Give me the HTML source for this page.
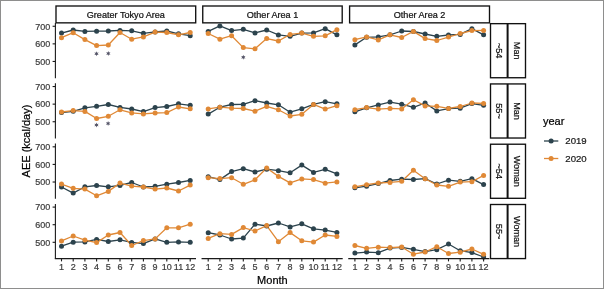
<!DOCTYPE html>
<html><head><meta charset="utf-8"><style>
html,body{margin:0;padding:0;background:#fff;}
body{width:604px;height:289px;position:relative;overflow:hidden;font-family:"Liberation Sans",sans-serif;}
svg text{font-family:"Liberation Sans",sans-serif;}
svg{filter:blur(0.3px);}
.frame{position:absolute;left:0;top:0;width:602px;height:287px;border:1px solid #8e8e8d;}
</style></head><body>
<svg width="604" height="289" viewBox="0 0 604 289" style="position:absolute;left:0;top:0">
<rect x="0" y="0" width="604" height="289" fill="#ffffff"/>
<rect x="56.00" y="6.00" width="139.70" height="16.85" fill="#fff" stroke="#111" stroke-width="1.35"/>
<text x="125.85" y="18.1" text-anchor="middle" font-size="9.1" fill="#111" stroke="#111" stroke-width="0.22">Greater Tokyo Area</text>
<rect x="202.75" y="6.00" width="139.45" height="16.85" fill="#fff" stroke="#111" stroke-width="1.35"/>
<text x="272.48" y="18.1" text-anchor="middle" font-size="9.1" fill="#111" stroke="#111" stroke-width="0.22">Other Area 1</text>
<rect x="349.60" y="6.00" width="139.90" height="16.85" fill="#fff" stroke="#111" stroke-width="1.35"/>
<text x="419.55" y="18.1" text-anchor="middle" font-size="9.1" fill="#111" stroke="#111" stroke-width="0.22">Other Area 2</text>
<rect x="490.50" y="23.66" width="35.00" height="54.08" fill="#fff" stroke="#111" stroke-width="1.35"/>
<line x1="507.60" y1="23.66" x2="507.60" y2="77.74" stroke="#111" stroke-width="2.0"/>
<text transform="translate(499.05,50.70) rotate(90)" x="0" y="2.8" text-anchor="middle" font-size="9.1" fill="#111" stroke="#111" stroke-width="0.22">~54</text>
<text transform="translate(516.55,50.70) rotate(90)" x="0" y="2.8" text-anchor="middle" font-size="9.1" fill="#111" stroke="#111" stroke-width="0.22">Man</text>
<rect x="490.50" y="83.94" width="35.00" height="54.08" fill="#fff" stroke="#111" stroke-width="1.35"/>
<line x1="507.60" y1="83.94" x2="507.60" y2="138.02" stroke="#111" stroke-width="2.0"/>
<text transform="translate(499.05,110.98) rotate(90)" x="0" y="2.8" text-anchor="middle" font-size="9.1" fill="#111" stroke="#111" stroke-width="0.22">55~</text>
<text transform="translate(516.55,110.98) rotate(90)" x="0" y="2.8" text-anchor="middle" font-size="9.1" fill="#111" stroke="#111" stroke-width="0.22">Man</text>
<rect x="490.50" y="144.22" width="35.00" height="54.08" fill="#fff" stroke="#111" stroke-width="1.35"/>
<line x1="507.60" y1="144.22" x2="507.60" y2="198.30" stroke="#111" stroke-width="2.0"/>
<text transform="translate(499.05,171.26) rotate(90)" x="0" y="2.8" text-anchor="middle" font-size="9.1" fill="#111" stroke="#111" stroke-width="0.22">~54</text>
<text transform="translate(516.55,171.26) rotate(90)" x="0" y="2.8" text-anchor="middle" font-size="9.1" fill="#111" stroke="#111" stroke-width="0.22">Woman</text>
<rect x="490.50" y="204.50" width="35.00" height="54.08" fill="#fff" stroke="#111" stroke-width="1.35"/>
<line x1="507.60" y1="204.50" x2="507.60" y2="258.58" stroke="#111" stroke-width="2.0"/>
<text transform="translate(499.05,231.54) rotate(90)" x="0" y="2.8" text-anchor="middle" font-size="9.1" fill="#111" stroke="#111" stroke-width="0.22">55~</text>
<text transform="translate(516.55,231.54) rotate(90)" x="0" y="2.8" text-anchor="middle" font-size="9.1" fill="#111" stroke="#111" stroke-width="0.22">Woman</text>
<polyline points="61.50,33.10 73.20,30.00 84.90,31.40 96.60,31.20 108.30,31.00 120.00,30.40 131.70,30.80 143.40,33.30 155.10,31.90 166.80,31.00 178.50,33.80 190.20,35.70" fill="none" stroke="#2c434d" stroke-width="1.3" stroke-linejoin="round"/>
<polyline points="61.50,37.70 73.20,32.70 84.90,39.60 96.60,45.60 108.30,45.00 120.00,32.50 131.70,39.20 143.40,36.90 155.10,32.10 166.80,32.50 178.50,34.80 190.20,32.50" fill="none" stroke="#e08936" stroke-width="1.3" stroke-linejoin="round"/>
<polyline points="208.20,31.40 219.90,25.90 231.60,30.60 243.30,29.30 255.00,32.90 266.70,30.00 278.40,34.90 290.10,36.30 301.80,33.10 313.50,32.90 325.20,28.70 336.90,34.80" fill="none" stroke="#2c434d" stroke-width="1.3" stroke-linejoin="round"/>
<polyline points="208.20,33.50 219.90,39.20 231.60,35.70 243.30,47.60 255.00,48.80 266.70,38.60 278.40,41.00 290.10,34.40 301.80,33.10 313.50,36.30 325.20,35.80 336.90,29.70" fill="none" stroke="#e08936" stroke-width="1.3" stroke-linejoin="round"/>
<polyline points="354.90,44.90 366.60,37.30 378.30,36.90 390.00,34.80 401.70,31.00 413.40,31.50 425.10,34.00 436.80,36.30 448.50,35.00 460.20,34.40 471.90,28.70 483.60,34.80" fill="none" stroke="#2c434d" stroke-width="1.3" stroke-linejoin="round"/>
<polyline points="354.90,39.70 366.60,36.90 378.30,39.90 390.00,34.80 401.70,37.50 413.40,31.40 425.10,38.60 436.80,40.50 448.50,37.10 460.20,33.50 471.90,30.60 483.60,30.40" fill="none" stroke="#e08936" stroke-width="1.3" stroke-linejoin="round"/>
<polyline points="61.50,112.60 73.20,111.30 84.90,107.80 96.60,106.30 108.30,104.50 120.00,107.40 131.70,109.00 143.40,111.60 155.10,107.60 166.80,106.50 178.50,103.80 190.20,105.30" fill="none" stroke="#2c434d" stroke-width="1.3" stroke-linejoin="round"/>
<polyline points="61.50,112.00 73.20,110.60 84.90,111.40 96.60,118.50 108.30,116.30 120.00,109.80 131.70,112.90 143.40,113.90 155.10,113.00 166.80,112.60 178.50,107.00 190.20,108.80" fill="none" stroke="#e08936" stroke-width="1.3" stroke-linejoin="round"/>
<polyline points="208.20,114.10 219.90,107.20 231.60,104.50 243.30,104.40 255.00,100.70 266.70,103.00 278.40,104.80 290.10,112.20 301.80,108.80 313.50,104.40 325.20,101.70 336.90,103.80" fill="none" stroke="#2c434d" stroke-width="1.3" stroke-linejoin="round"/>
<polyline points="208.20,108.90 219.90,107.20 231.60,108.20 243.30,108.50 255.00,111.20 266.70,106.40 278.40,109.80 290.10,116.00 301.80,114.30 313.50,104.40 325.20,109.10 336.90,105.70" fill="none" stroke="#e08936" stroke-width="1.3" stroke-linejoin="round"/>
<polyline points="354.90,111.80 366.60,107.80 378.30,104.90 390.00,102.10 401.70,104.20 413.40,107.30 425.10,103.00 436.80,110.90 448.50,108.60 460.20,108.20 471.90,103.60 483.60,105.30" fill="none" stroke="#2c434d" stroke-width="1.3" stroke-linejoin="round"/>
<polyline points="354.90,109.70 366.60,107.60 378.30,109.10 390.00,108.40 401.70,108.90 413.40,99.70 425.10,105.90 436.80,106.30 448.50,108.40 460.20,106.50 471.90,103.00 483.60,103.40" fill="none" stroke="#e08936" stroke-width="1.3" stroke-linejoin="round"/>
<polyline points="61.50,187.00 73.20,193.10 84.90,186.80 96.60,185.50 108.30,186.80 120.00,185.40 131.70,182.50 143.40,187.00 155.10,186.30 166.80,184.20 178.50,182.50 190.20,180.40" fill="none" stroke="#2c434d" stroke-width="1.3" stroke-linejoin="round"/>
<polyline points="61.50,184.10 73.20,188.30 84.90,189.10 96.60,195.80 108.30,191.40 120.00,183.10 131.70,186.10 143.40,187.00 155.10,189.10 166.80,188.00 178.50,191.00 190.20,185.10" fill="none" stroke="#e08936" stroke-width="1.3" stroke-linejoin="round"/>
<polyline points="208.20,176.70 219.90,179.60 231.60,171.60 243.30,168.70 255.00,172.00 266.70,169.20 278.40,170.70 290.10,172.80 301.80,165.10 313.50,172.40 325.20,169.30 336.90,173.90" fill="none" stroke="#2c434d" stroke-width="1.3" stroke-linejoin="round"/>
<polyline points="208.20,177.70 219.90,178.60 231.60,177.70 243.30,184.30 255.00,179.80 266.70,168.00 278.40,176.40 290.10,182.90 301.80,178.90 313.50,179.60 325.20,183.20 336.90,181.90" fill="none" stroke="#e08936" stroke-width="1.3" stroke-linejoin="round"/>
<polyline points="354.90,187.80 366.60,186.20 378.30,183.60 390.00,180.50 401.70,179.20 413.40,179.50 425.10,178.70 436.80,184.00 448.50,180.20 460.20,181.30 471.90,178.70 483.60,184.60" fill="none" stroke="#2c434d" stroke-width="1.3" stroke-linejoin="round"/>
<polyline points="354.90,186.80 366.60,184.70 378.30,183.00 390.00,182.40 401.70,181.30 413.40,170.30 425.10,178.80 436.80,185.00 448.50,186.30 460.20,182.10 471.90,181.70 483.60,175.40" fill="none" stroke="#e08936" stroke-width="1.3" stroke-linejoin="round"/>
<polyline points="61.50,246.20 73.20,242.20 84.90,241.90 96.60,239.40 108.30,241.50 120.00,239.80 131.70,242.40 143.40,243.60 155.10,238.90 166.80,242.30 178.50,241.90 190.20,242.30" fill="none" stroke="#2c434d" stroke-width="1.3" stroke-linejoin="round"/>
<polyline points="61.50,240.90 73.20,236.00 84.90,240.10 96.60,242.60 108.30,235.00 120.00,232.50 131.70,245.50 143.40,240.60 155.10,238.90 166.80,227.80 178.50,227.80 190.20,224.20" fill="none" stroke="#e08936" stroke-width="1.3" stroke-linejoin="round"/>
<polyline points="208.20,232.70 219.90,235.00 231.60,239.00 243.30,238.10 255.00,224.20 266.70,226.00 278.40,223.00 290.10,226.90 301.80,223.80 313.50,228.80 325.20,230.10 336.90,232.40" fill="none" stroke="#2c434d" stroke-width="1.3" stroke-linejoin="round"/>
<polyline points="208.20,238.40 219.90,233.70 231.60,234.40 243.30,227.60 255.00,231.00 266.70,225.60 278.40,241.70 290.10,232.60 301.80,240.80 313.50,242.10 325.20,235.00 336.90,236.40" fill="none" stroke="#e08936" stroke-width="1.3" stroke-linejoin="round"/>
<polyline points="354.90,253.10 366.60,252.10 378.30,252.70 390.00,248.10 401.70,247.40 413.40,249.30 425.10,251.60 436.80,249.70 448.50,244.00 460.20,250.70 471.90,252.60 483.60,257.00" fill="none" stroke="#2c434d" stroke-width="1.3" stroke-linejoin="round"/>
<polyline points="354.90,245.50 366.60,248.30 378.30,247.20 390.00,247.60 401.70,247.00 413.40,254.20 425.10,252.00 436.80,246.70 448.50,253.50 460.20,252.20 471.90,249.00 483.60,254.30" fill="none" stroke="#e08936" stroke-width="1.3" stroke-linejoin="round"/>
<circle cx="61.50" cy="33.10" r="2.5" fill="#2c434d"/>
<circle cx="73.20" cy="30.00" r="2.5" fill="#2c434d"/>
<circle cx="84.90" cy="31.40" r="2.5" fill="#2c434d"/>
<circle cx="96.60" cy="31.20" r="2.5" fill="#2c434d"/>
<circle cx="108.30" cy="31.00" r="2.5" fill="#2c434d"/>
<circle cx="120.00" cy="30.40" r="2.5" fill="#2c434d"/>
<circle cx="131.70" cy="30.80" r="2.5" fill="#2c434d"/>
<circle cx="143.40" cy="33.30" r="2.5" fill="#2c434d"/>
<circle cx="155.10" cy="31.90" r="2.5" fill="#2c434d"/>
<circle cx="166.80" cy="31.00" r="2.5" fill="#2c434d"/>
<circle cx="178.50" cy="33.80" r="2.5" fill="#2c434d"/>
<circle cx="190.20" cy="35.70" r="2.5" fill="#2c434d"/>
<circle cx="61.50" cy="37.70" r="2.5" fill="#e08936"/>
<circle cx="73.20" cy="32.70" r="2.5" fill="#e08936"/>
<circle cx="84.90" cy="39.60" r="2.5" fill="#e08936"/>
<circle cx="96.60" cy="45.60" r="2.5" fill="#e08936"/>
<circle cx="108.30" cy="45.00" r="2.5" fill="#e08936"/>
<circle cx="120.00" cy="32.50" r="2.5" fill="#e08936"/>
<circle cx="131.70" cy="39.20" r="2.5" fill="#e08936"/>
<circle cx="143.40" cy="36.90" r="2.5" fill="#e08936"/>
<circle cx="155.10" cy="32.10" r="2.5" fill="#e08936"/>
<circle cx="166.80" cy="32.50" r="2.5" fill="#e08936"/>
<circle cx="178.50" cy="34.80" r="2.5" fill="#e08936"/>
<circle cx="190.20" cy="32.50" r="2.5" fill="#e08936"/>
<circle cx="208.20" cy="31.40" r="2.5" fill="#2c434d"/>
<circle cx="219.90" cy="25.90" r="2.5" fill="#2c434d"/>
<circle cx="231.60" cy="30.60" r="2.5" fill="#2c434d"/>
<circle cx="243.30" cy="29.30" r="2.5" fill="#2c434d"/>
<circle cx="255.00" cy="32.90" r="2.5" fill="#2c434d"/>
<circle cx="266.70" cy="30.00" r="2.5" fill="#2c434d"/>
<circle cx="278.40" cy="34.90" r="2.5" fill="#2c434d"/>
<circle cx="290.10" cy="36.30" r="2.5" fill="#2c434d"/>
<circle cx="301.80" cy="33.10" r="2.5" fill="#2c434d"/>
<circle cx="313.50" cy="32.90" r="2.5" fill="#2c434d"/>
<circle cx="325.20" cy="28.70" r="2.5" fill="#2c434d"/>
<circle cx="336.90" cy="34.80" r="2.5" fill="#2c434d"/>
<circle cx="208.20" cy="33.50" r="2.5" fill="#e08936"/>
<circle cx="219.90" cy="39.20" r="2.5" fill="#e08936"/>
<circle cx="231.60" cy="35.70" r="2.5" fill="#e08936"/>
<circle cx="243.30" cy="47.60" r="2.5" fill="#e08936"/>
<circle cx="255.00" cy="48.80" r="2.5" fill="#e08936"/>
<circle cx="266.70" cy="38.60" r="2.5" fill="#e08936"/>
<circle cx="278.40" cy="41.00" r="2.5" fill="#e08936"/>
<circle cx="290.10" cy="34.40" r="2.5" fill="#e08936"/>
<circle cx="301.80" cy="33.10" r="2.5" fill="#e08936"/>
<circle cx="313.50" cy="36.30" r="2.5" fill="#e08936"/>
<circle cx="325.20" cy="35.80" r="2.5" fill="#e08936"/>
<circle cx="336.90" cy="29.70" r="2.5" fill="#e08936"/>
<circle cx="354.90" cy="44.90" r="2.5" fill="#2c434d"/>
<circle cx="366.60" cy="37.30" r="2.5" fill="#2c434d"/>
<circle cx="378.30" cy="36.90" r="2.5" fill="#2c434d"/>
<circle cx="390.00" cy="34.80" r="2.5" fill="#2c434d"/>
<circle cx="401.70" cy="31.00" r="2.5" fill="#2c434d"/>
<circle cx="413.40" cy="31.50" r="2.5" fill="#2c434d"/>
<circle cx="425.10" cy="34.00" r="2.5" fill="#2c434d"/>
<circle cx="436.80" cy="36.30" r="2.5" fill="#2c434d"/>
<circle cx="448.50" cy="35.00" r="2.5" fill="#2c434d"/>
<circle cx="460.20" cy="34.40" r="2.5" fill="#2c434d"/>
<circle cx="471.90" cy="28.70" r="2.5" fill="#2c434d"/>
<circle cx="483.60" cy="34.80" r="2.5" fill="#2c434d"/>
<circle cx="354.90" cy="39.70" r="2.5" fill="#e08936"/>
<circle cx="366.60" cy="36.90" r="2.5" fill="#e08936"/>
<circle cx="378.30" cy="39.90" r="2.5" fill="#e08936"/>
<circle cx="390.00" cy="34.80" r="2.5" fill="#e08936"/>
<circle cx="401.70" cy="37.50" r="2.5" fill="#e08936"/>
<circle cx="413.40" cy="31.40" r="2.5" fill="#e08936"/>
<circle cx="425.10" cy="38.60" r="2.5" fill="#e08936"/>
<circle cx="436.80" cy="40.50" r="2.5" fill="#e08936"/>
<circle cx="448.50" cy="37.10" r="2.5" fill="#e08936"/>
<circle cx="460.20" cy="33.50" r="2.5" fill="#e08936"/>
<circle cx="471.90" cy="30.60" r="2.5" fill="#e08936"/>
<circle cx="483.60" cy="30.40" r="2.5" fill="#e08936"/>
<circle cx="61.50" cy="112.60" r="2.5" fill="#2c434d"/>
<circle cx="73.20" cy="111.30" r="2.5" fill="#2c434d"/>
<circle cx="84.90" cy="107.80" r="2.5" fill="#2c434d"/>
<circle cx="96.60" cy="106.30" r="2.5" fill="#2c434d"/>
<circle cx="108.30" cy="104.50" r="2.5" fill="#2c434d"/>
<circle cx="120.00" cy="107.40" r="2.5" fill="#2c434d"/>
<circle cx="131.70" cy="109.00" r="2.5" fill="#2c434d"/>
<circle cx="143.40" cy="111.60" r="2.5" fill="#2c434d"/>
<circle cx="155.10" cy="107.60" r="2.5" fill="#2c434d"/>
<circle cx="166.80" cy="106.50" r="2.5" fill="#2c434d"/>
<circle cx="178.50" cy="103.80" r="2.5" fill="#2c434d"/>
<circle cx="190.20" cy="105.30" r="2.5" fill="#2c434d"/>
<circle cx="61.50" cy="112.00" r="2.5" fill="#e08936"/>
<circle cx="73.20" cy="110.60" r="2.5" fill="#e08936"/>
<circle cx="84.90" cy="111.40" r="2.5" fill="#e08936"/>
<circle cx="96.60" cy="118.50" r="2.5" fill="#e08936"/>
<circle cx="108.30" cy="116.30" r="2.5" fill="#e08936"/>
<circle cx="120.00" cy="109.80" r="2.5" fill="#e08936"/>
<circle cx="131.70" cy="112.90" r="2.5" fill="#e08936"/>
<circle cx="143.40" cy="113.90" r="2.5" fill="#e08936"/>
<circle cx="155.10" cy="113.00" r="2.5" fill="#e08936"/>
<circle cx="166.80" cy="112.60" r="2.5" fill="#e08936"/>
<circle cx="178.50" cy="107.00" r="2.5" fill="#e08936"/>
<circle cx="190.20" cy="108.80" r="2.5" fill="#e08936"/>
<circle cx="208.20" cy="114.10" r="2.5" fill="#2c434d"/>
<circle cx="219.90" cy="107.20" r="2.5" fill="#2c434d"/>
<circle cx="231.60" cy="104.50" r="2.5" fill="#2c434d"/>
<circle cx="243.30" cy="104.40" r="2.5" fill="#2c434d"/>
<circle cx="255.00" cy="100.70" r="2.5" fill="#2c434d"/>
<circle cx="266.70" cy="103.00" r="2.5" fill="#2c434d"/>
<circle cx="278.40" cy="104.80" r="2.5" fill="#2c434d"/>
<circle cx="290.10" cy="112.20" r="2.5" fill="#2c434d"/>
<circle cx="301.80" cy="108.80" r="2.5" fill="#2c434d"/>
<circle cx="313.50" cy="104.40" r="2.5" fill="#2c434d"/>
<circle cx="325.20" cy="101.70" r="2.5" fill="#2c434d"/>
<circle cx="336.90" cy="103.80" r="2.5" fill="#2c434d"/>
<circle cx="208.20" cy="108.90" r="2.5" fill="#e08936"/>
<circle cx="219.90" cy="107.20" r="2.5" fill="#e08936"/>
<circle cx="231.60" cy="108.20" r="2.5" fill="#e08936"/>
<circle cx="243.30" cy="108.50" r="2.5" fill="#e08936"/>
<circle cx="255.00" cy="111.20" r="2.5" fill="#e08936"/>
<circle cx="266.70" cy="106.40" r="2.5" fill="#e08936"/>
<circle cx="278.40" cy="109.80" r="2.5" fill="#e08936"/>
<circle cx="290.10" cy="116.00" r="2.5" fill="#e08936"/>
<circle cx="301.80" cy="114.30" r="2.5" fill="#e08936"/>
<circle cx="313.50" cy="104.40" r="2.5" fill="#e08936"/>
<circle cx="325.20" cy="109.10" r="2.5" fill="#e08936"/>
<circle cx="336.90" cy="105.70" r="2.5" fill="#e08936"/>
<circle cx="354.90" cy="111.80" r="2.5" fill="#2c434d"/>
<circle cx="366.60" cy="107.80" r="2.5" fill="#2c434d"/>
<circle cx="378.30" cy="104.90" r="2.5" fill="#2c434d"/>
<circle cx="390.00" cy="102.10" r="2.5" fill="#2c434d"/>
<circle cx="401.70" cy="104.20" r="2.5" fill="#2c434d"/>
<circle cx="413.40" cy="107.30" r="2.5" fill="#2c434d"/>
<circle cx="425.10" cy="103.00" r="2.5" fill="#2c434d"/>
<circle cx="436.80" cy="110.90" r="2.5" fill="#2c434d"/>
<circle cx="448.50" cy="108.60" r="2.5" fill="#2c434d"/>
<circle cx="460.20" cy="108.20" r="2.5" fill="#2c434d"/>
<circle cx="471.90" cy="103.60" r="2.5" fill="#2c434d"/>
<circle cx="483.60" cy="105.30" r="2.5" fill="#2c434d"/>
<circle cx="354.90" cy="109.70" r="2.5" fill="#e08936"/>
<circle cx="366.60" cy="107.60" r="2.5" fill="#e08936"/>
<circle cx="378.30" cy="109.10" r="2.5" fill="#e08936"/>
<circle cx="390.00" cy="108.40" r="2.5" fill="#e08936"/>
<circle cx="401.70" cy="108.90" r="2.5" fill="#e08936"/>
<circle cx="413.40" cy="99.70" r="2.5" fill="#e08936"/>
<circle cx="425.10" cy="105.90" r="2.5" fill="#e08936"/>
<circle cx="436.80" cy="106.30" r="2.5" fill="#e08936"/>
<circle cx="448.50" cy="108.40" r="2.5" fill="#e08936"/>
<circle cx="460.20" cy="106.50" r="2.5" fill="#e08936"/>
<circle cx="471.90" cy="103.00" r="2.5" fill="#e08936"/>
<circle cx="483.60" cy="103.40" r="2.5" fill="#e08936"/>
<circle cx="61.50" cy="187.00" r="2.5" fill="#2c434d"/>
<circle cx="73.20" cy="193.10" r="2.5" fill="#2c434d"/>
<circle cx="84.90" cy="186.80" r="2.5" fill="#2c434d"/>
<circle cx="96.60" cy="185.50" r="2.5" fill="#2c434d"/>
<circle cx="108.30" cy="186.80" r="2.5" fill="#2c434d"/>
<circle cx="120.00" cy="185.40" r="2.5" fill="#2c434d"/>
<circle cx="131.70" cy="182.50" r="2.5" fill="#2c434d"/>
<circle cx="143.40" cy="187.00" r="2.5" fill="#2c434d"/>
<circle cx="155.10" cy="186.30" r="2.5" fill="#2c434d"/>
<circle cx="166.80" cy="184.20" r="2.5" fill="#2c434d"/>
<circle cx="178.50" cy="182.50" r="2.5" fill="#2c434d"/>
<circle cx="190.20" cy="180.40" r="2.5" fill="#2c434d"/>
<circle cx="61.50" cy="184.10" r="2.5" fill="#e08936"/>
<circle cx="73.20" cy="188.30" r="2.5" fill="#e08936"/>
<circle cx="84.90" cy="189.10" r="2.5" fill="#e08936"/>
<circle cx="96.60" cy="195.80" r="2.5" fill="#e08936"/>
<circle cx="108.30" cy="191.40" r="2.5" fill="#e08936"/>
<circle cx="120.00" cy="183.10" r="2.5" fill="#e08936"/>
<circle cx="131.70" cy="186.10" r="2.5" fill="#e08936"/>
<circle cx="143.40" cy="187.00" r="2.5" fill="#e08936"/>
<circle cx="155.10" cy="189.10" r="2.5" fill="#e08936"/>
<circle cx="166.80" cy="188.00" r="2.5" fill="#e08936"/>
<circle cx="178.50" cy="191.00" r="2.5" fill="#e08936"/>
<circle cx="190.20" cy="185.10" r="2.5" fill="#e08936"/>
<circle cx="208.20" cy="176.70" r="2.5" fill="#2c434d"/>
<circle cx="219.90" cy="179.60" r="2.5" fill="#2c434d"/>
<circle cx="231.60" cy="171.60" r="2.5" fill="#2c434d"/>
<circle cx="243.30" cy="168.70" r="2.5" fill="#2c434d"/>
<circle cx="255.00" cy="172.00" r="2.5" fill="#2c434d"/>
<circle cx="266.70" cy="169.20" r="2.5" fill="#2c434d"/>
<circle cx="278.40" cy="170.70" r="2.5" fill="#2c434d"/>
<circle cx="290.10" cy="172.80" r="2.5" fill="#2c434d"/>
<circle cx="301.80" cy="165.10" r="2.5" fill="#2c434d"/>
<circle cx="313.50" cy="172.40" r="2.5" fill="#2c434d"/>
<circle cx="325.20" cy="169.30" r="2.5" fill="#2c434d"/>
<circle cx="336.90" cy="173.90" r="2.5" fill="#2c434d"/>
<circle cx="208.20" cy="177.70" r="2.5" fill="#e08936"/>
<circle cx="219.90" cy="178.60" r="2.5" fill="#e08936"/>
<circle cx="231.60" cy="177.70" r="2.5" fill="#e08936"/>
<circle cx="243.30" cy="184.30" r="2.5" fill="#e08936"/>
<circle cx="255.00" cy="179.80" r="2.5" fill="#e08936"/>
<circle cx="266.70" cy="168.00" r="2.5" fill="#e08936"/>
<circle cx="278.40" cy="176.40" r="2.5" fill="#e08936"/>
<circle cx="290.10" cy="182.90" r="2.5" fill="#e08936"/>
<circle cx="301.80" cy="178.90" r="2.5" fill="#e08936"/>
<circle cx="313.50" cy="179.60" r="2.5" fill="#e08936"/>
<circle cx="325.20" cy="183.20" r="2.5" fill="#e08936"/>
<circle cx="336.90" cy="181.90" r="2.5" fill="#e08936"/>
<circle cx="354.90" cy="187.80" r="2.5" fill="#2c434d"/>
<circle cx="366.60" cy="186.20" r="2.5" fill="#2c434d"/>
<circle cx="378.30" cy="183.60" r="2.5" fill="#2c434d"/>
<circle cx="390.00" cy="180.50" r="2.5" fill="#2c434d"/>
<circle cx="401.70" cy="179.20" r="2.5" fill="#2c434d"/>
<circle cx="413.40" cy="179.50" r="2.5" fill="#2c434d"/>
<circle cx="425.10" cy="178.70" r="2.5" fill="#2c434d"/>
<circle cx="436.80" cy="184.00" r="2.5" fill="#2c434d"/>
<circle cx="448.50" cy="180.20" r="2.5" fill="#2c434d"/>
<circle cx="460.20" cy="181.30" r="2.5" fill="#2c434d"/>
<circle cx="471.90" cy="178.70" r="2.5" fill="#2c434d"/>
<circle cx="483.60" cy="184.60" r="2.5" fill="#2c434d"/>
<circle cx="354.90" cy="186.80" r="2.5" fill="#e08936"/>
<circle cx="366.60" cy="184.70" r="2.5" fill="#e08936"/>
<circle cx="378.30" cy="183.00" r="2.5" fill="#e08936"/>
<circle cx="390.00" cy="182.40" r="2.5" fill="#e08936"/>
<circle cx="401.70" cy="181.30" r="2.5" fill="#e08936"/>
<circle cx="413.40" cy="170.30" r="2.5" fill="#e08936"/>
<circle cx="425.10" cy="178.80" r="2.5" fill="#e08936"/>
<circle cx="436.80" cy="185.00" r="2.5" fill="#e08936"/>
<circle cx="448.50" cy="186.30" r="2.5" fill="#e08936"/>
<circle cx="460.20" cy="182.10" r="2.5" fill="#e08936"/>
<circle cx="471.90" cy="181.70" r="2.5" fill="#e08936"/>
<circle cx="483.60" cy="175.40" r="2.5" fill="#e08936"/>
<circle cx="61.50" cy="246.20" r="2.5" fill="#2c434d"/>
<circle cx="73.20" cy="242.20" r="2.5" fill="#2c434d"/>
<circle cx="84.90" cy="241.90" r="2.5" fill="#2c434d"/>
<circle cx="96.60" cy="239.40" r="2.5" fill="#2c434d"/>
<circle cx="108.30" cy="241.50" r="2.5" fill="#2c434d"/>
<circle cx="120.00" cy="239.80" r="2.5" fill="#2c434d"/>
<circle cx="131.70" cy="242.40" r="2.5" fill="#2c434d"/>
<circle cx="143.40" cy="243.60" r="2.5" fill="#2c434d"/>
<circle cx="155.10" cy="238.90" r="2.5" fill="#2c434d"/>
<circle cx="166.80" cy="242.30" r="2.5" fill="#2c434d"/>
<circle cx="178.50" cy="241.90" r="2.5" fill="#2c434d"/>
<circle cx="190.20" cy="242.30" r="2.5" fill="#2c434d"/>
<circle cx="61.50" cy="240.90" r="2.5" fill="#e08936"/>
<circle cx="73.20" cy="236.00" r="2.5" fill="#e08936"/>
<circle cx="84.90" cy="240.10" r="2.5" fill="#e08936"/>
<circle cx="96.60" cy="242.60" r="2.5" fill="#e08936"/>
<circle cx="108.30" cy="235.00" r="2.5" fill="#e08936"/>
<circle cx="120.00" cy="232.50" r="2.5" fill="#e08936"/>
<circle cx="131.70" cy="245.50" r="2.5" fill="#e08936"/>
<circle cx="143.40" cy="240.60" r="2.5" fill="#e08936"/>
<circle cx="155.10" cy="238.90" r="2.5" fill="#e08936"/>
<circle cx="166.80" cy="227.80" r="2.5" fill="#e08936"/>
<circle cx="178.50" cy="227.80" r="2.5" fill="#e08936"/>
<circle cx="190.20" cy="224.20" r="2.5" fill="#e08936"/>
<circle cx="208.20" cy="232.70" r="2.5" fill="#2c434d"/>
<circle cx="219.90" cy="235.00" r="2.5" fill="#2c434d"/>
<circle cx="231.60" cy="239.00" r="2.5" fill="#2c434d"/>
<circle cx="243.30" cy="238.10" r="2.5" fill="#2c434d"/>
<circle cx="255.00" cy="224.20" r="2.5" fill="#2c434d"/>
<circle cx="266.70" cy="226.00" r="2.5" fill="#2c434d"/>
<circle cx="278.40" cy="223.00" r="2.5" fill="#2c434d"/>
<circle cx="290.10" cy="226.90" r="2.5" fill="#2c434d"/>
<circle cx="301.80" cy="223.80" r="2.5" fill="#2c434d"/>
<circle cx="313.50" cy="228.80" r="2.5" fill="#2c434d"/>
<circle cx="325.20" cy="230.10" r="2.5" fill="#2c434d"/>
<circle cx="336.90" cy="232.40" r="2.5" fill="#2c434d"/>
<circle cx="208.20" cy="238.40" r="2.5" fill="#e08936"/>
<circle cx="219.90" cy="233.70" r="2.5" fill="#e08936"/>
<circle cx="231.60" cy="234.40" r="2.5" fill="#e08936"/>
<circle cx="243.30" cy="227.60" r="2.5" fill="#e08936"/>
<circle cx="255.00" cy="231.00" r="2.5" fill="#e08936"/>
<circle cx="266.70" cy="225.60" r="2.5" fill="#e08936"/>
<circle cx="278.40" cy="241.70" r="2.5" fill="#e08936"/>
<circle cx="290.10" cy="232.60" r="2.5" fill="#e08936"/>
<circle cx="301.80" cy="240.80" r="2.5" fill="#e08936"/>
<circle cx="313.50" cy="242.10" r="2.5" fill="#e08936"/>
<circle cx="325.20" cy="235.00" r="2.5" fill="#e08936"/>
<circle cx="336.90" cy="236.40" r="2.5" fill="#e08936"/>
<circle cx="354.90" cy="253.10" r="2.5" fill="#2c434d"/>
<circle cx="366.60" cy="252.10" r="2.5" fill="#2c434d"/>
<circle cx="378.30" cy="252.70" r="2.5" fill="#2c434d"/>
<circle cx="390.00" cy="248.10" r="2.5" fill="#2c434d"/>
<circle cx="401.70" cy="247.40" r="2.5" fill="#2c434d"/>
<circle cx="413.40" cy="249.30" r="2.5" fill="#2c434d"/>
<circle cx="425.10" cy="251.60" r="2.5" fill="#2c434d"/>
<circle cx="436.80" cy="249.70" r="2.5" fill="#2c434d"/>
<circle cx="448.50" cy="244.00" r="2.5" fill="#2c434d"/>
<circle cx="460.20" cy="250.70" r="2.5" fill="#2c434d"/>
<circle cx="471.90" cy="252.60" r="2.5" fill="#2c434d"/>
<circle cx="483.60" cy="257.00" r="2.5" fill="#2c434d"/>
<circle cx="354.90" cy="245.50" r="2.5" fill="#e08936"/>
<circle cx="366.60" cy="248.30" r="2.5" fill="#e08936"/>
<circle cx="378.30" cy="247.20" r="2.5" fill="#e08936"/>
<circle cx="390.00" cy="247.60" r="2.5" fill="#e08936"/>
<circle cx="401.70" cy="247.00" r="2.5" fill="#e08936"/>
<circle cx="413.40" cy="254.20" r="2.5" fill="#e08936"/>
<circle cx="425.10" cy="252.00" r="2.5" fill="#e08936"/>
<circle cx="436.80" cy="246.70" r="2.5" fill="#e08936"/>
<circle cx="448.50" cy="253.50" r="2.5" fill="#e08936"/>
<circle cx="460.20" cy="252.20" r="2.5" fill="#e08936"/>
<circle cx="471.90" cy="249.00" r="2.5" fill="#e08936"/>
<circle cx="483.60" cy="254.30" r="2.5" fill="#e08936"/>
<polygon points="96.50,51.20 95.92,52.70 94.33,52.45 95.35,53.70 94.33,54.95 95.92,54.70 96.50,56.20 97.08,54.70 98.67,54.95 97.65,53.70 98.67,52.45 97.08,52.70" fill="#555568"/>
<polygon points="108.30,51.10 107.72,52.60 106.13,52.35 107.15,53.60 106.13,54.85 107.72,54.60 108.30,56.10 108.88,54.60 110.47,54.85 109.45,53.60 110.47,52.35 108.88,52.60" fill="#555568"/>
<polygon points="243.30,54.80 242.73,56.30 241.13,56.05 242.15,57.30 241.13,58.55 242.73,58.30 243.30,59.80 243.88,58.30 245.47,58.55 244.45,57.30 245.47,56.05 243.88,56.30" fill="#555568"/>
<polygon points="96.50,122.60 95.92,124.10 94.33,123.85 95.35,125.10 94.33,126.35 95.92,126.10 96.50,127.60 97.08,126.10 98.67,126.35 97.65,125.10 98.67,123.85 97.08,124.10" fill="#555568"/>
<polygon points="108.10,120.90 107.52,122.40 105.93,122.15 106.95,123.40 105.93,124.65 107.52,124.40 108.10,125.90 108.67,124.40 110.27,124.65 109.25,123.40 110.27,122.15 108.67,122.40" fill="#555568"/>
<line x1="55.40" y1="23.06" x2="55.40" y2="78.24" stroke="#1a1a1a" stroke-width="1.1"/>
<line x1="52.60" y1="26.26" x2="55.40" y2="26.26" stroke="#1a1a1a" stroke-width="1.1"/>
<text x="50.20" y="29.56" text-anchor="end" font-size="9" fill="#3d3d3d" stroke="#3d3d3d" stroke-width="0.22">700</text>
<line x1="52.60" y1="43.86" x2="55.40" y2="43.86" stroke="#1a1a1a" stroke-width="1.1"/>
<text x="50.20" y="47.16" text-anchor="end" font-size="9" fill="#3d3d3d" stroke="#3d3d3d" stroke-width="0.22">600</text>
<line x1="52.60" y1="61.46" x2="55.40" y2="61.46" stroke="#1a1a1a" stroke-width="1.1"/>
<text x="50.20" y="64.76" text-anchor="end" font-size="9" fill="#3d3d3d" stroke="#3d3d3d" stroke-width="0.22">500</text>
<line x1="55.40" y1="83.34" x2="55.40" y2="138.52" stroke="#1a1a1a" stroke-width="1.1"/>
<line x1="52.60" y1="86.54" x2="55.40" y2="86.54" stroke="#1a1a1a" stroke-width="1.1"/>
<text x="50.20" y="89.84" text-anchor="end" font-size="9" fill="#3d3d3d" stroke="#3d3d3d" stroke-width="0.22">700</text>
<line x1="52.60" y1="104.14" x2="55.40" y2="104.14" stroke="#1a1a1a" stroke-width="1.1"/>
<text x="50.20" y="107.44" text-anchor="end" font-size="9" fill="#3d3d3d" stroke="#3d3d3d" stroke-width="0.22">600</text>
<line x1="52.60" y1="121.74" x2="55.40" y2="121.74" stroke="#1a1a1a" stroke-width="1.1"/>
<text x="50.20" y="125.04" text-anchor="end" font-size="9" fill="#3d3d3d" stroke="#3d3d3d" stroke-width="0.22">500</text>
<line x1="55.40" y1="143.62" x2="55.40" y2="198.80" stroke="#1a1a1a" stroke-width="1.1"/>
<line x1="52.60" y1="146.82" x2="55.40" y2="146.82" stroke="#1a1a1a" stroke-width="1.1"/>
<text x="50.20" y="150.12" text-anchor="end" font-size="9" fill="#3d3d3d" stroke="#3d3d3d" stroke-width="0.22">700</text>
<line x1="52.60" y1="164.42" x2="55.40" y2="164.42" stroke="#1a1a1a" stroke-width="1.1"/>
<text x="50.20" y="167.72" text-anchor="end" font-size="9" fill="#3d3d3d" stroke="#3d3d3d" stroke-width="0.22">600</text>
<line x1="52.60" y1="182.02" x2="55.40" y2="182.02" stroke="#1a1a1a" stroke-width="1.1"/>
<text x="50.20" y="185.32" text-anchor="end" font-size="9" fill="#3d3d3d" stroke="#3d3d3d" stroke-width="0.22">500</text>
<line x1="55.40" y1="203.90" x2="55.40" y2="259.08" stroke="#1a1a1a" stroke-width="1.1"/>
<line x1="52.60" y1="207.10" x2="55.40" y2="207.10" stroke="#1a1a1a" stroke-width="1.1"/>
<text x="50.20" y="210.40" text-anchor="end" font-size="9" fill="#3d3d3d" stroke="#3d3d3d" stroke-width="0.22">700</text>
<line x1="52.60" y1="224.70" x2="55.40" y2="224.70" stroke="#1a1a1a" stroke-width="1.1"/>
<text x="50.20" y="228.00" text-anchor="end" font-size="9" fill="#3d3d3d" stroke="#3d3d3d" stroke-width="0.22">600</text>
<line x1="52.60" y1="242.30" x2="55.40" y2="242.30" stroke="#1a1a1a" stroke-width="1.1"/>
<text x="50.20" y="245.60" text-anchor="end" font-size="9" fill="#3d3d3d" stroke="#3d3d3d" stroke-width="0.22">500</text>
<line x1="54.85" y1="258.58" x2="196.00" y2="258.58" stroke="#1a1a1a" stroke-width="1.1"/>
<line x1="61.50" y1="258.58" x2="61.50" y2="261.38" stroke="#1a1a1a" stroke-width="1.1"/>
<text x="61.50" y="269.58" text-anchor="middle" font-size="9" fill="#3d3d3d" stroke="#3d3d3d" stroke-width="0.22">1</text>
<line x1="73.20" y1="258.58" x2="73.20" y2="261.38" stroke="#1a1a1a" stroke-width="1.1"/>
<text x="73.20" y="269.58" text-anchor="middle" font-size="9" fill="#3d3d3d" stroke="#3d3d3d" stroke-width="0.22">2</text>
<line x1="84.90" y1="258.58" x2="84.90" y2="261.38" stroke="#1a1a1a" stroke-width="1.1"/>
<text x="84.90" y="269.58" text-anchor="middle" font-size="9" fill="#3d3d3d" stroke="#3d3d3d" stroke-width="0.22">3</text>
<line x1="96.60" y1="258.58" x2="96.60" y2="261.38" stroke="#1a1a1a" stroke-width="1.1"/>
<text x="96.60" y="269.58" text-anchor="middle" font-size="9" fill="#3d3d3d" stroke="#3d3d3d" stroke-width="0.22">4</text>
<line x1="108.30" y1="258.58" x2="108.30" y2="261.38" stroke="#1a1a1a" stroke-width="1.1"/>
<text x="108.30" y="269.58" text-anchor="middle" font-size="9" fill="#3d3d3d" stroke="#3d3d3d" stroke-width="0.22">5</text>
<line x1="120.00" y1="258.58" x2="120.00" y2="261.38" stroke="#1a1a1a" stroke-width="1.1"/>
<text x="120.00" y="269.58" text-anchor="middle" font-size="9" fill="#3d3d3d" stroke="#3d3d3d" stroke-width="0.22">6</text>
<line x1="131.70" y1="258.58" x2="131.70" y2="261.38" stroke="#1a1a1a" stroke-width="1.1"/>
<text x="131.70" y="269.58" text-anchor="middle" font-size="9" fill="#3d3d3d" stroke="#3d3d3d" stroke-width="0.22">7</text>
<line x1="143.40" y1="258.58" x2="143.40" y2="261.38" stroke="#1a1a1a" stroke-width="1.1"/>
<text x="143.40" y="269.58" text-anchor="middle" font-size="9" fill="#3d3d3d" stroke="#3d3d3d" stroke-width="0.22">8</text>
<line x1="155.10" y1="258.58" x2="155.10" y2="261.38" stroke="#1a1a1a" stroke-width="1.1"/>
<text x="155.10" y="269.58" text-anchor="middle" font-size="9" fill="#3d3d3d" stroke="#3d3d3d" stroke-width="0.22">9</text>
<line x1="166.80" y1="258.58" x2="166.80" y2="261.38" stroke="#1a1a1a" stroke-width="1.1"/>
<text x="166.80" y="269.58" text-anchor="middle" font-size="9" fill="#3d3d3d" stroke="#3d3d3d" stroke-width="0.22">10</text>
<line x1="178.50" y1="258.58" x2="178.50" y2="261.38" stroke="#1a1a1a" stroke-width="1.1"/>
<text x="178.50" y="269.58" text-anchor="middle" font-size="9" fill="#3d3d3d" stroke="#3d3d3d" stroke-width="0.22">11</text>
<line x1="190.20" y1="258.58" x2="190.20" y2="261.38" stroke="#1a1a1a" stroke-width="1.1"/>
<text x="190.20" y="269.58" text-anchor="middle" font-size="9" fill="#3d3d3d" stroke="#3d3d3d" stroke-width="0.22">12</text>
<line x1="201.55" y1="258.58" x2="342.70" y2="258.58" stroke="#1a1a1a" stroke-width="1.1"/>
<line x1="208.20" y1="258.58" x2="208.20" y2="261.38" stroke="#1a1a1a" stroke-width="1.1"/>
<text x="208.20" y="269.58" text-anchor="middle" font-size="9" fill="#3d3d3d" stroke="#3d3d3d" stroke-width="0.22">1</text>
<line x1="219.90" y1="258.58" x2="219.90" y2="261.38" stroke="#1a1a1a" stroke-width="1.1"/>
<text x="219.90" y="269.58" text-anchor="middle" font-size="9" fill="#3d3d3d" stroke="#3d3d3d" stroke-width="0.22">2</text>
<line x1="231.60" y1="258.58" x2="231.60" y2="261.38" stroke="#1a1a1a" stroke-width="1.1"/>
<text x="231.60" y="269.58" text-anchor="middle" font-size="9" fill="#3d3d3d" stroke="#3d3d3d" stroke-width="0.22">3</text>
<line x1="243.30" y1="258.58" x2="243.30" y2="261.38" stroke="#1a1a1a" stroke-width="1.1"/>
<text x="243.30" y="269.58" text-anchor="middle" font-size="9" fill="#3d3d3d" stroke="#3d3d3d" stroke-width="0.22">4</text>
<line x1="255.00" y1="258.58" x2="255.00" y2="261.38" stroke="#1a1a1a" stroke-width="1.1"/>
<text x="255.00" y="269.58" text-anchor="middle" font-size="9" fill="#3d3d3d" stroke="#3d3d3d" stroke-width="0.22">5</text>
<line x1="266.70" y1="258.58" x2="266.70" y2="261.38" stroke="#1a1a1a" stroke-width="1.1"/>
<text x="266.70" y="269.58" text-anchor="middle" font-size="9" fill="#3d3d3d" stroke="#3d3d3d" stroke-width="0.22">6</text>
<line x1="278.40" y1="258.58" x2="278.40" y2="261.38" stroke="#1a1a1a" stroke-width="1.1"/>
<text x="278.40" y="269.58" text-anchor="middle" font-size="9" fill="#3d3d3d" stroke="#3d3d3d" stroke-width="0.22">7</text>
<line x1="290.10" y1="258.58" x2="290.10" y2="261.38" stroke="#1a1a1a" stroke-width="1.1"/>
<text x="290.10" y="269.58" text-anchor="middle" font-size="9" fill="#3d3d3d" stroke="#3d3d3d" stroke-width="0.22">8</text>
<line x1="301.80" y1="258.58" x2="301.80" y2="261.38" stroke="#1a1a1a" stroke-width="1.1"/>
<text x="301.80" y="269.58" text-anchor="middle" font-size="9" fill="#3d3d3d" stroke="#3d3d3d" stroke-width="0.22">9</text>
<line x1="313.50" y1="258.58" x2="313.50" y2="261.38" stroke="#1a1a1a" stroke-width="1.1"/>
<text x="313.50" y="269.58" text-anchor="middle" font-size="9" fill="#3d3d3d" stroke="#3d3d3d" stroke-width="0.22">10</text>
<line x1="325.20" y1="258.58" x2="325.20" y2="261.38" stroke="#1a1a1a" stroke-width="1.1"/>
<text x="325.20" y="269.58" text-anchor="middle" font-size="9" fill="#3d3d3d" stroke="#3d3d3d" stroke-width="0.22">11</text>
<line x1="336.90" y1="258.58" x2="336.90" y2="261.38" stroke="#1a1a1a" stroke-width="1.1"/>
<text x="336.90" y="269.58" text-anchor="middle" font-size="9" fill="#3d3d3d" stroke="#3d3d3d" stroke-width="0.22">12</text>
<line x1="348.25" y1="258.58" x2="489.40" y2="258.58" stroke="#1a1a1a" stroke-width="1.1"/>
<line x1="354.90" y1="258.58" x2="354.90" y2="261.38" stroke="#1a1a1a" stroke-width="1.1"/>
<text x="354.90" y="269.58" text-anchor="middle" font-size="9" fill="#3d3d3d" stroke="#3d3d3d" stroke-width="0.22">1</text>
<line x1="366.60" y1="258.58" x2="366.60" y2="261.38" stroke="#1a1a1a" stroke-width="1.1"/>
<text x="366.60" y="269.58" text-anchor="middle" font-size="9" fill="#3d3d3d" stroke="#3d3d3d" stroke-width="0.22">2</text>
<line x1="378.30" y1="258.58" x2="378.30" y2="261.38" stroke="#1a1a1a" stroke-width="1.1"/>
<text x="378.30" y="269.58" text-anchor="middle" font-size="9" fill="#3d3d3d" stroke="#3d3d3d" stroke-width="0.22">3</text>
<line x1="390.00" y1="258.58" x2="390.00" y2="261.38" stroke="#1a1a1a" stroke-width="1.1"/>
<text x="390.00" y="269.58" text-anchor="middle" font-size="9" fill="#3d3d3d" stroke="#3d3d3d" stroke-width="0.22">4</text>
<line x1="401.70" y1="258.58" x2="401.70" y2="261.38" stroke="#1a1a1a" stroke-width="1.1"/>
<text x="401.70" y="269.58" text-anchor="middle" font-size="9" fill="#3d3d3d" stroke="#3d3d3d" stroke-width="0.22">5</text>
<line x1="413.40" y1="258.58" x2="413.40" y2="261.38" stroke="#1a1a1a" stroke-width="1.1"/>
<text x="413.40" y="269.58" text-anchor="middle" font-size="9" fill="#3d3d3d" stroke="#3d3d3d" stroke-width="0.22">6</text>
<line x1="425.10" y1="258.58" x2="425.10" y2="261.38" stroke="#1a1a1a" stroke-width="1.1"/>
<text x="425.10" y="269.58" text-anchor="middle" font-size="9" fill="#3d3d3d" stroke="#3d3d3d" stroke-width="0.22">7</text>
<line x1="436.80" y1="258.58" x2="436.80" y2="261.38" stroke="#1a1a1a" stroke-width="1.1"/>
<text x="436.80" y="269.58" text-anchor="middle" font-size="9" fill="#3d3d3d" stroke="#3d3d3d" stroke-width="0.22">8</text>
<line x1="448.50" y1="258.58" x2="448.50" y2="261.38" stroke="#1a1a1a" stroke-width="1.1"/>
<text x="448.50" y="269.58" text-anchor="middle" font-size="9" fill="#3d3d3d" stroke="#3d3d3d" stroke-width="0.22">9</text>
<line x1="460.20" y1="258.58" x2="460.20" y2="261.38" stroke="#1a1a1a" stroke-width="1.1"/>
<text x="460.20" y="269.58" text-anchor="middle" font-size="9" fill="#3d3d3d" stroke="#3d3d3d" stroke-width="0.22">10</text>
<line x1="471.90" y1="258.58" x2="471.90" y2="261.38" stroke="#1a1a1a" stroke-width="1.1"/>
<text x="471.90" y="269.58" text-anchor="middle" font-size="9" fill="#3d3d3d" stroke="#3d3d3d" stroke-width="0.22">11</text>
<line x1="483.60" y1="258.58" x2="483.60" y2="261.38" stroke="#1a1a1a" stroke-width="1.1"/>
<text x="483.60" y="269.58" text-anchor="middle" font-size="9" fill="#3d3d3d" stroke="#3d3d3d" stroke-width="0.22">12</text>
<text x="272.4" y="283.7" text-anchor="middle" font-size="11" fill="#000" stroke="#000" stroke-width="0.22">Month</text>
<text transform="translate(29.5,141.0) rotate(-90)" x="0" y="0" text-anchor="middle" font-size="11" fill="#000" stroke="#000" stroke-width="0.22">AEE (kcal/day)</text>
<text x="543" y="125.2" font-size="11" fill="#000" stroke="#000" stroke-width="0.22">year</text>
<line x1="544" y1="141.00" x2="558.3" y2="141.00" stroke="#2c434d" stroke-width="1.3"/>
<circle cx="551.1" cy="141.00" r="2.5" fill="#2c434d"/>
<text x="565.3" y="144.45" font-size="9.6" fill="#1a1a1a" stroke="#1a1a1a" stroke-width="0.22">2019</text>
<line x1="544" y1="158.50" x2="558.3" y2="158.50" stroke="#e08936" stroke-width="1.3"/>
<circle cx="551.1" cy="158.50" r="2.5" fill="#e08936"/>
<text x="565.3" y="161.95" font-size="9.6" fill="#1a1a1a" stroke="#1a1a1a" stroke-width="0.22">2020</text>
</svg>
<div class="frame"></div>
</body></html>
